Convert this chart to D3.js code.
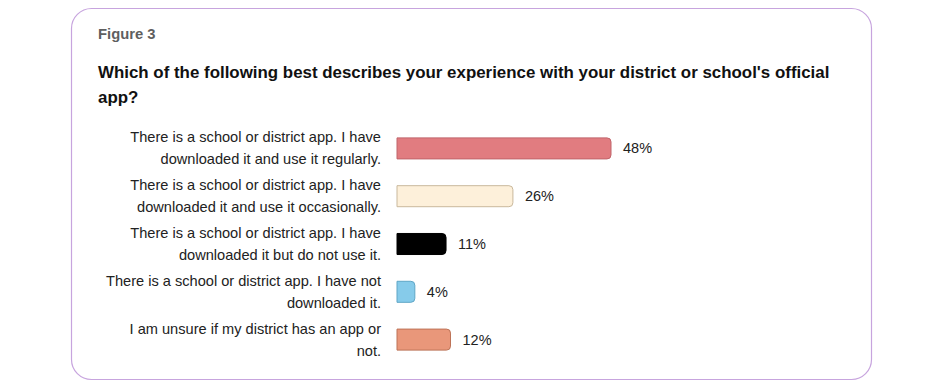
<!DOCTYPE html>
<html>
<head>
<meta charset="utf-8">
<script src="https://cdn.jsdelivr.net/npm/d3@7"></script>
<style>
  body { margin: 0; background: #fff; }
  svg { display: block; font-family: "Liberation Sans", Arial, sans-serif; }
</style>
</head>
<body>
<svg width="944" height="388"></svg>
<script>
const categories = [
    ["There is a school or district app. I have", "downloaded it and use it regularly."],
    ["There is a school or district app. I have", "downloaded it and use it occasionally."],
    ["There is a school or district app. I have", "downloaded it but do not use it."],
    ["There is a school or district app. I have not", "downloaded it."],
    ["I am unsure if my district has an app or", "not."]
];
const values = [48, 26, 11, 4, 12];
const fills = ["#e17c80", "#fdf0da", "#000000", "#86cbea", "#e9977a"];
const strokes = ["#c0646a", "#c9b89c", "#000000", "#5fa6c6", "#bd7357"];

const svg = d3.select("svg");

// card
svg.append("rect")
    .attr("x", 71.5).attr("y", 8.5)
    .attr("width", 800).attr("height", 371)
    .attr("rx", 20)
    .attr("fill", "#fff")
    .attr("stroke", "#c7a4de")
    .attr("stroke-width", 1.2);

svg.append("text")
    .attr("x", 98).attr("y", 39)
    .attr("font-size", 14.8).attr("font-weight", "bold")
    .attr("fill", "#5f5f5f")
    .text("Figure 3");

const title = svg.append("text")
    .attr("font-size", 16.9).attr("font-weight", "bold")
    .attr("fill", "#111");
title.append("tspan").attr("x", 98).attr("y", 78)
    .text("Which of the following best describes your experience with your district or school's official");
title.append("tspan").attr("x", 98).attr("y", 103).text("app?");

const x0 = 397;
const x = d3.scaleLinear().domain([0, 48]).range([0, 214]);
const y = d3.scaleBand()
    .domain(d3.range(values.length))
    .range([124.5, 363.5])
    .paddingInner(0.56)
    .paddingOuter(0.28);

const g = svg.append("g").attr("transform", "translate(" + x0 + ",0)");

// bars with rounded right end
function barPath(w, y0, h) {
    const r = Math.min(4, w / 2);
    return "M0," + y0 + "H" + (w - r) +
        "Q" + w + "," + y0 + " " + w + "," + (y0 + r) +
        "V" + (y0 + h - r) +
        "Q" + w + "," + (y0 + h) + " " + (w - r) + "," + (y0 + h) +
        "H0Z";
}

g.selectAll(".bar")
    .data(values)
    .enter().append("path")
        .attr("class", "bar")
        .attr("d", (d, i) => barPath(x(d), y(i), y.bandwidth()))
        .attr("fill", (d, i) => fills[i])
        .attr("stroke", (d, i) => strokes[i])
        .attr("stroke-width", 1);

g.selectAll(".value")
    .data(values)
    .enter().append("text")
        .attr("class", "value")
        .attr("x", d => x(d) + 12)
        .attr("y", (d, i) => y(i) + y.bandwidth() / 2)
        .attr("dy", "0.35em")
        .attr("font-size", 14.5)
        .attr("fill", "#222")
        .text(d => d + "%");

const labels = svg.selectAll(".label")
    .data(categories)
    .enter().append("text")
        .attr("class", "label")
        .attr("text-anchor", "end")
        .attr("font-size", 14.6)
        .attr("fill", "#222");

labels.selectAll("tspan")
    .data((d, i) => d.map(t => ({ t, i })))
    .enter().append("tspan")
        .attr("x", 381)
        .attr("y", (d, j) => y(d.i) + y.bandwidth() / 2 - 6 + j * 22)
        .text(d => d.t);
</script>
</body>
</html>
